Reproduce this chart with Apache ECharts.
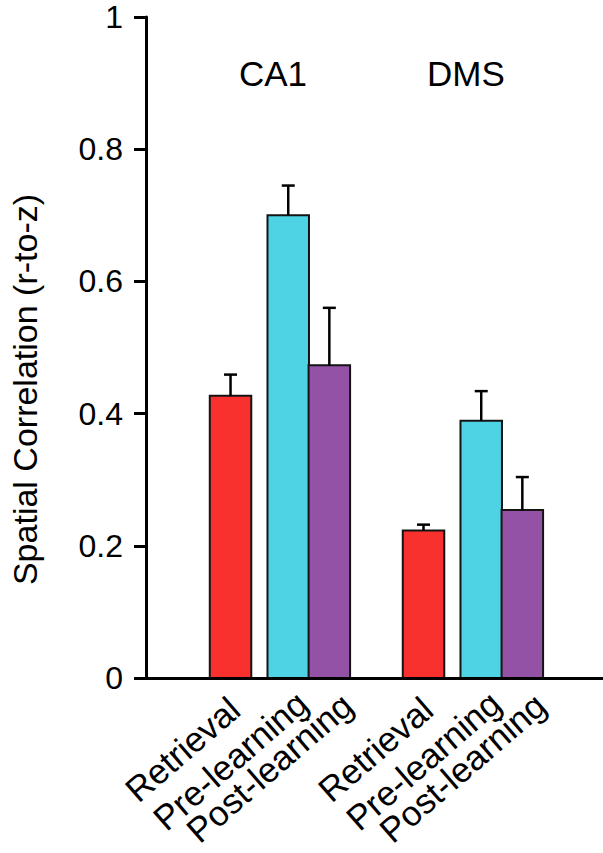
<!DOCTYPE html>
<html>
<head>
<meta charset="utf-8">
<script src="https://cdn.jsdelivr.net/npm/echarts@6/dist/echarts.min.js"></script>
<style>
html,body{margin:0;padding:0;background:#fff;}
#chart{width:603px;height:853px;}
</style>
</head>
<body>
<div id="chart"></div>
<script>
// ---- data ----
const groups = ['CA1', 'DMS'];
const conditions = ['Retrieval', 'Pre-learning', 'Post-learning'];
const meanCA1 = [0.427, 0.700, 0.473];
const meanDMS = [0.223, 0.389, 0.254];
const semCA1 = [0.032, 0.045, 0.087];
const semDMS = [0.009, 0.045, 0.050];
const yTickLabels = ['0', '0.2', '0.4', '0.6', '0.8', '1'];

// ---- styling / layout ----
const FONT = 'Liberation Sans, Arial, Helvetica, sans-serif';
const colors = ['#F8302E', '#4DD3E4', '#9352A5'];
const barOffsets = [0, 0.299, 0.512];   // in group units
const barWidthUnits = 0.215;
const labelRot = 41 * Math.PI / 180;
const labelDx = [4, 14, 18];
const labelDy = [26, 20, 22];

const means = [meanCA1, meanDMS];
const sems = [semCA1, semDMS];

function makeRender(ci) {
  return function (params, api) {
    const g = api.value(0), m = api.value(1), s = api.value(2);
    const xv = g + barOffsets[ci];
    const top = api.coord([xv, m]);
    const base = api.coord([xv, 0]);
    const errTop = api.coord([xv, m + s]);
    const w = api.size([barWidthUnits, 0])[0];
    const cx = top[0];
    return {
      type: 'group',
      children: [
        { type: 'rect', shape: { x: cx - w / 2, y: top[1], width: w, height: base[1] - top[1] },
          style: { fill: colors[ci], stroke: '#141414', lineWidth: 2 } },
        { type: 'line', shape: { x1: cx, y1: top[1], x2: cx, y2: errTop[1] },
          style: { stroke: '#000', lineWidth: 2.5 } },
        { type: 'line', shape: { x1: cx - 6.5, y1: errTop[1], x2: cx + 6.5, y2: errTop[1] },
          style: { stroke: '#000', lineWidth: 2.5 } },
        { type: 'text', x: cx + labelDx[ci], y: base[1] + labelDy[ci], rotation: labelRot,
          style: { text: conditions[ci], align: 'right', verticalAlign: 'middle',
                   fontSize: 35, fontFamily: FONT, fill: '#000' } }
      ]
    };
  };
}

const series = conditions.map(function (name, ci) {
  return {
    name: name,
    type: 'custom',
    clip: false,
    renderItem: makeRender(ci),
    encode: { x: 0, y: 1 },
    data: groups.map(function (gName, gi) { return [gi, means[gi][ci], sems[gi][ci]]; })
  };
});

series.push({
  name: 'groups',
  type: 'custom',
  clip: false,
  renderItem: function (params, api) {
    const gi = api.value(0);
    const p = api.coord([gi + 0.22, 0.914]);
    return { type: 'text', x: p[0], y: p[1],
      style: { text: groups[gi], align: 'center', verticalAlign: 'middle',
               fontSize: 35, fontFamily: FONT, fill: '#000' } };
  },
  encode: { x: 0, y: 1 },
  data: groups.map(function (g, gi) { return [gi, 0.914]; })
});

const chart = echarts.init(document.getElementById('chart'), null, { renderer: 'svg' });
chart.setOption({
  animation: false,
  backgroundColor: '#fff',
  grid: { left: 146, right: 0, top: 17, bottom: 175, containLabel: false },
  xAxis: {
    type: 'value', min: -0.438, max: 1.930, z: 5,
    axisLine: { show: true, onZero: false, lineStyle: { color: '#000', width: 3 } },
    axisTick: { show: false }, axisLabel: { show: false }, splitLine: { show: false }
  },
  yAxis: {
    type: 'value', min: 0, max: 1, interval: 0.2, z: 5,
    name: 'Spatial Correlation (r-to-z)', nameLocation: 'middle', nameGap: 104,
    nameTextStyle: { fontSize: 34, fontFamily: FONT, color: '#000', padding: [0, 84, 0, 0] },
    axisLine: { show: true, onZero: false, lineStyle: { color: '#000', width: 3 } },
    axisTick: { show: true, length: 12, lineStyle: { color: '#000', width: 3 } },
    axisLabel: { fontSize: 32, fontFamily: FONT, color: '#000', margin: 23, lineHeight: 28,
      formatter: function (v) { return yTickLabels[Math.round(v / 0.2)]; } },
    splitLine: { show: false }
  },
  series: series
});
</script>
</body>
</html>
